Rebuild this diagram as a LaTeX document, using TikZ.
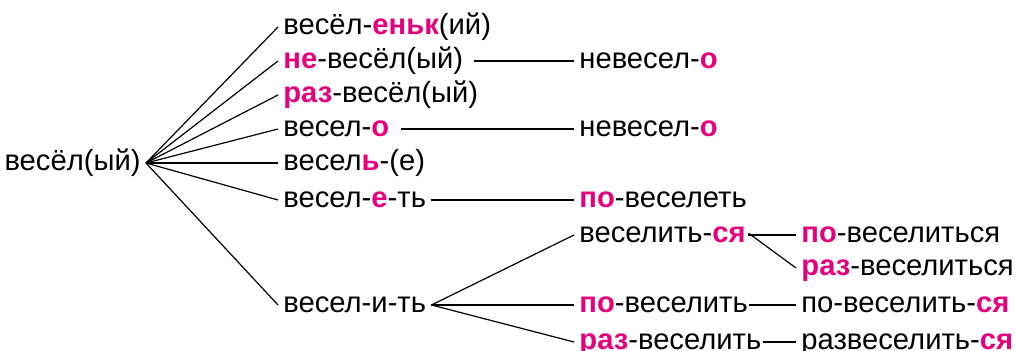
\documentclass[tikz,border=0pt]{standalone}
\usepackage{fontspec}
\setmainfont{Liberation Sans}
\usetikzlibrary{positioning}
\definecolor{pfx}{RGB}{230,0,126}
\newcommand{\morph}[1]{\textcolor{pfx}{\textbf{#1}}}

\begin{document}
\begin{tikzpicture}[x=0.5pt,y=-0.5pt,font=\fontsize{14.6}{17}\selectfont,
  wd/.style={inner xsep=2.5pt,inner ysep=0pt,text height=10.4pt,text depth=3pt,anchor=west},
  br/.style={line width=0.6pt}]
  \useasboundingbox (0,0) rectangle (1016,351);
  % root and first derivatives
  \node[wd,anchor=east] (root) at (146,163) {весёл(ый)};
  \node[wd] (a1) at (278,27) {весёл-\morph{еньк}(ий)};
  \node[wd] (a2) at (278,61) {\morph{не}-весёл(ый)};
  \node[wd] (a3) at (278,95) {\morph{раз}-весёл(ый)};
  \node[wd] (a4) at (278,129) {весел-\morph{о}};
  \node[wd] (a5) at (278,163) {весел\morph{ь}-(е)};
  \node[wd] (a6) at (278,200) {весел-\morph{е}-ть};
  \node[wd] (a7) at (278,305) {весел-и-ть};
  % second step
  \node[wd] (b2) at (574,61) {невесел-\morph{о}};
  \node[wd] (b4) at (574,129) {невесел-\morph{о}};
  \node[wd] (b6) at (574,200) {\morph{по}-веселеть};
  \node[wd] (c1) at (574,235) {веселить-\morph{ся}};
  \node[wd] (c2) at (574,305) {\morph{по}-веселить};
  \node[wd] (c3) at (574,342) {\morph{раз}-веселить};
  % third step
  \node[wd] (d1) at (796,235) {\morph{по}-веселиться};
  \node[wd] (d2) at (796,268) {\morph{раз}-веселиться};
  \node[wd] (d3) at (796,305) {по-веселить-\morph{ся}};
  \node[wd] (d4) at (796,342) {развеселить-\morph{ся}};
  \foreach \n in {a1,a2,a3,a4,a5,a6,a7}
    \draw[br] (root.east) -- (\n.west);
  \draw[br,shorten <=3pt] (a2.east) -- (b2.west);
  \draw[br,shorten <=3pt] (a4.east) -- (b4.west);
  \draw[br] (a6.east) -- (b6.west);
  \foreach \n in {c1,c2,c3}
    \draw[br] (a7.east) -- (\n.west);
  \draw[br,shorten <=-1.5pt] (c1.east) -- (d1.west);
  \draw[br,shorten <=-1.5pt] (c1.east) -- (d2.west);
  \draw[br,shorten <=-2pt] (c2.east) -- (d3.west);
  \draw[br,shorten <=-2pt] (c3.east) -- (d4.west);
\end{tikzpicture}
\end{document}
